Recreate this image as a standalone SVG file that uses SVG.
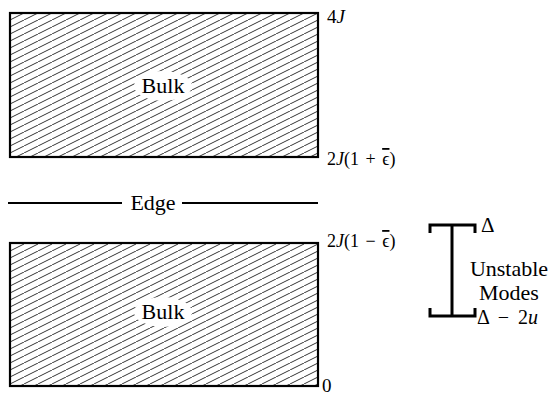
<svg xmlns="http://www.w3.org/2000/svg" width="556" height="395" viewBox="0 0 556 395">
<style>
.box{fill:url(#hatch);stroke:#000;stroke-width:2.2}
text{font-family:'Liberation Serif','DejaVu Serif','Times New Roman',serif;fill:#000}
.lbl{font-size:22px}
.it{font-style:italic}
.ln{stroke:#000;fill:none}
</style>
<defs>
<pattern id="hatch" patternUnits="userSpaceOnUse" x="10" y="13" width="14" height="7">
<path d="M-14,7 L0,0 M0,7 L14,0 M14,7 L28,0" stroke="#000" stroke-width="0.8"/>
</pattern>
</defs>
<g id="bulk-top">
<rect class="box" x="10" y="13" width="308" height="144"/>
<ellipse cx="163" cy="86" rx="29" ry="15" fill="#fff"/>
<text class="lbl" x="163" y="93" text-anchor="middle">Bulk</text>
</g>
<g id="bulk-bottom">
<rect class="box" x="10" y="243" width="308" height="143"/>
<ellipse cx="163" cy="312" rx="29" ry="15" fill="#fff"/>
<text class="lbl" x="163" y="319" text-anchor="middle">Bulk</text>
</g>
<g id="edge">
<text class="lbl" x="153" y="210" text-anchor="middle">Edge</text>
</g>
<g id="labels">
<text x="327" y="23" font-size="19">4<tspan class="it">J</tspan></text>
<text x="327" y="165" font-size="18">2<tspan class="it">J</tspan>(1 <tspan dx="2">+</tspan> <tspan dx="2" text-decoration="overline">ϵ</tspan>)</text>
<text x="327" y="247" font-size="18">2<tspan class="it">J</tspan>(1 <tspan dx="2">−</tspan> <tspan dx="2" text-decoration="overline">ϵ</tspan>)</text>
<text x="322" y="392" font-size="19">0</text>
</g>
<g id="unstable">
<text x="481" y="232" font-size="21">Δ</text>
<text x="477" y="324" font-size="20">Δ <tspan dx="4">−</tspan> <tspan dx="4">2</tspan><tspan class="it">u</tspan></text>
<text class="lbl" x="509" y="276" font-size="21" text-anchor="middle">Unstable</text>
<text class="lbl" x="509" y="300" font-size="21" text-anchor="middle">Modes</text>
</g>
<g id="connectors">
<line class="ln" x1="8" y1="203" x2="122" y2="203" stroke-width="2"/>
<line class="ln" x1="182" y1="203" x2="318" y2="203" stroke-width="2"/>
<path class="ln" d="M430,233 V225 H475 V233" stroke-width="3"/>
<line class="ln" x1="452" y1="225" x2="452" y2="316" stroke-width="3"/>
<path class="ln" d="M430,308 V316 H475 V308" stroke-width="3"/>
</g>
</svg>
